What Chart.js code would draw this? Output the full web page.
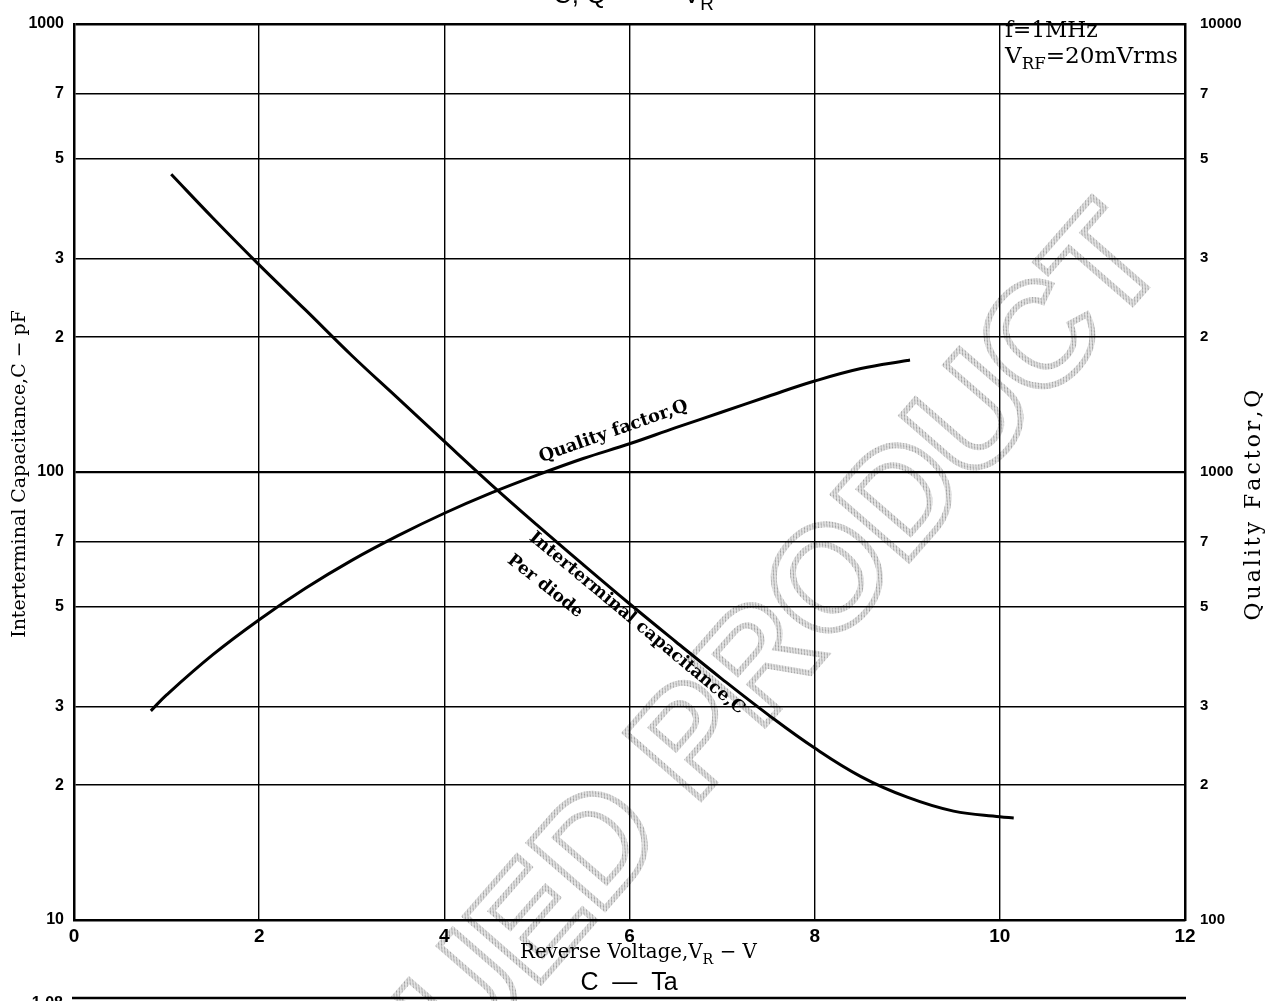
<!DOCTYPE html>
<html>
<head>
<meta charset="utf-8">
<script src="https://cdn.jsdelivr.net/npm/chart.js@4.4.1/dist/chart.umd.min.js"></script>
<style>
  body { margin: 0; background: #fff; }
  #wrap { width: 1270px; height: 1001px; }
</style>
</head>
<body>
<div id="wrap"><canvas id="cq" width="1270" height="1001"></canvas></div>
<script>
// C - VR curve (left axis, pF)
const voltsC = [1.05, 1.5, 2, 2.5, 3, 3.5, 4, 4.5, 5, 5.5, 6, 6.5, 7, 7.5, 8, 8.5, 9, 9.5, 10, 10.15];
const capC = [462, 369, 290, 230, 182, 146, 117, 94, 76.2, 62.1, 50.8, 41.8, 34.5, 28.7, 24.2, 20.9, 18.8, 17.5, 17.0, 16.9];

// Q - VR curve (right axis)
const voltsQ = [0.83, 1, 1.5, 2, 2.5, 3, 3.5, 4, 4.5, 5, 5.5, 6, 6.5, 7, 7.5, 8, 8.5, 9, 9.03];
const qualityQ = [293, 318, 391, 468, 550, 635, 721, 809, 897, 984, 1072, 1156, 1256, 1361, 1476, 1596, 1702, 1774, 1778];

// axes
const xTicks = [0, 2, 4, 6, 8, 10, 12];
const yTicksLeft = [10, 20, 30, 50, 70, 100, 200, 300, 500, 700, 1000];
const yLabelsLeft = ['10', '2', '3', '5', '7', '100', '2', '3', '5', '7', '1000'];
const yTicksRight = [100, 200, 300, 500, 700, 1000, 2000, 3000, 5000, 7000, 10000];
const yLabelsRight = ['100', '2', '3', '5', '7', '1000', '2', '3', '5', '7', '10000'];

const SERIF = '"DejaVu Serif", "Liberation Serif", serif';
const SANS = '"Liberation Sans", Arial, sans-serif';

function richWidth(ctx, parts, size, family, weight) {
    let w = 0;
    parts.forEach(p => {
        ctx.font = weight + ' ' + (p[1] ? size * 0.72 : size) + 'px ' + family;
        w += ctx.measureText(p[0]).width;
    });
    return w;
}

function drawRich(ctx, parts, x, y, size, family, weight) {
    ctx.textAlign = 'left';
    ctx.textBaseline = 'alphabetic';
    parts.forEach(p => {
        const s = p[1] ? size * 0.72 : size;
        ctx.font = weight + ' ' + s + 'px ' + family;
        ctx.fillText(p[0], x, p[1] ? y + size * 0.28 : y);
        x += ctx.measureText(p[0]).width;
    });
}

function fitSize(ctx, parts, target, family, weight) {
    return 100 * target / richWidth(ctx, parts, 100, family, weight);
}

// text centred on (cx, cy), rotated, scaled to a given length
function drawRotated(ctx, parts, cx, cy, angle, length, family, weight) {
    const size = fitSize(ctx, parts, length, family, weight);
    const w = richWidth(ctx, parts, size, family, weight);
    ctx.save();
    ctx.translate(cx, cy);
    ctx.rotate(angle);
    drawRich(ctx, parts, -w / 2, size * 0.36, size, family, weight);
    ctx.restore();
}

// fixed font size, letters spread out to a given length
function drawSpaced(ctx, text, cx, cy, angle, size, length, family) {
    ctx.save();
    ctx.translate(cx, cy);
    ctx.rotate(angle);
    ctx.font = 'normal ' + size + 'px ' + family;
    ctx.textAlign = 'left';
    ctx.textBaseline = 'alphabetic';
    const chars = text.split('');
    const natural = ctx.measureText(text).width;
    const gap = Math.max(0, (length - natural) / (chars.length - 1));
    const total = natural + gap * (chars.length - 1);
    let x = -total / 2;
    chars.forEach(ch => {
        ctx.fillText(ch, x, size * 0.36);
        x += ctx.measureText(ch).width + gap;
    });
    ctx.restore();
}

function hatchPattern(ctx) {
    const c = document.createElement('canvas');
    c.width = 4;
    c.height = 4;
    const g = c.getContext('2d');
    g.fillStyle = '#e2e2e2';
    g.fillRect(0, 0, 4, 4);
    g.strokeStyle = '#9a9a9a';
    g.lineWidth = 1;
    g.beginPath();
    g.moveTo(0, 4);
    g.lineTo(4, 0);
    g.stroke();
    return ctx.createPattern(c, 'repeat');
}

const decorPlugin = {
    id: 'decor',
    beforeDraw(chart) {
        const ctx = chart.ctx;
        ctx.save();
        ctx.fillStyle = '#fff';
        ctx.fillRect(0, 0, chart.width, chart.height);

        // watermark
        ctx.translate(1169, 262);
        ctx.rotate(-48.9 * Math.PI / 180);
        ctx.font = 'bold 146px ' + SANS;
        ctx.textAlign = 'right';
        ctx.textBaseline = 'alphabetic';
        ctx.strokeStyle = hatchPattern(ctx);
        ctx.lineWidth = 6;
        ctx.strokeText('DISCONTINUED PRODUCT', 0, 0);
        ctx.restore();
    },
    afterDraw(chart) {
        const ctx = chart.ctx;
        ctx.save();
        ctx.fillStyle = '#000';

        // axis titles
        drawRotated(ctx, [['Interterminal Capacitance,C \u2212 pF', false]], 18, 474, -Math.PI / 2, 328, SERIF, 'normal');
        drawSpaced(ctx, 'Quality Factor,Q', 1252, 507, -Math.PI / 2, 22, 227, SERIF);
        const xt = [['Reverse Voltage,V', false], ['R', true], [' \u2212 V', false]];
        drawRich(ctx, xt, 520, 958, fitSize(ctx, xt, 237, SERIF, 'normal'), SERIF, 'normal');

        // conditions box
        const c1 = [['f=1MHz', false]];
        const c2 = [['V', false], ['RF', true], ['=20mVrms', false]];
        const cs = fitSize(ctx, c2, 173, SERIF, 'normal');
        drawRich(ctx, c1, 1005, 37, cs * 0.94, SERIF, 'normal');
        drawRich(ctx, c2, 1005, 63, cs, SERIF, 'normal');

        // curve labels
        drawRotated(ctx, [['Quality factor,Q', false]], 613, 430, -19.5 * Math.PI / 180, 157, SERIF, 'bold');
        drawRotated(ctx, [['Interterminal capacitance,C', false]], 638, 622, 39.8 * Math.PI / 180, 275, SERIF, 'bold');
        drawRotated(ctx, [['Per diode', false]], 546, 585, 38.3 * Math.PI / 180, 91, SERIF, 'bold');

        // neighbouring charts, cut by the page edge
        drawRich(ctx, [['C, Q', false]], 553, 3, 26, SANS, 'normal');
        drawRich(ctx, [['V', false], ['R', true]], 683, 3, 26, SANS, 'normal');
        ctx.font = '25px ' + SANS;
        ctx.textAlign = 'center';
        ctx.fillText('C  \u2014  Ta', 629, 990);
        ctx.font = 'bold 16px ' + SANS;
        ctx.textAlign = 'right';
        ctx.fillText('1.08', 63, 1008);
        ctx.strokeStyle = '#000';
        ctx.lineWidth = 2.5;
        ctx.beginPath();
        ctx.moveTo(72, 998);
        ctx.lineTo(1186, 998);
        ctx.stroke();
        ctx.restore();
    }
};

function gridWidth(c) {
    if (!c.tick) return 1.4;
    if (c.tick.value === 100) return 2.2;
    if (c.tick.value === 1000) return 2.5;
    return 1.4;
}

new Chart(document.getElementById('cq'), {
    type: 'line',
    data: {
        datasets: [{
            label: 'Interterminal capacitance,C',
            data: voltsC.map((v, i) => ({ x: v, y: capC[i] })),
            yAxisID: 'y',
            borderColor: '#000',
            borderWidth: 3,
            pointRadius: 0,
            tension: 0.4,
            fill: false
        }, {
            label: 'Quality factor,Q',
            data: voltsQ.map((v, i) => ({ x: v, y: qualityQ[i] })),
            yAxisID: 'y2',
            borderColor: '#000',
            borderWidth: 3,
            pointRadius: 0,
            tension: 0.4,
            fill: false
        }]
    },
    options: {
        responsive: false,
        animation: false,
        devicePixelRatio: 1,
        layout: { padding: { top: 17, left: 0, right: 0, bottom: 0 } },
        plugins: {
            legend: { display: false },
            tooltip: { enabled: false }
        },
        scales: {
            x: {
                type: 'linear',
                min: 0,
                max: 12,
                afterBuildTicks: s => { s.ticks = xTicks.map(v => ({ value: v })); },
                afterFit: s => { s.height = 81; },
                ticks: {
                    color: '#000',
                    font: { family: SANS, size: 19, weight: 'bold' },
                    padding: 5,
                    maxRotation: 0,
                    autoSkip: false
                },
                grid: { color: '#000', lineWidth: 1.4, drawTicks: false },
                border: { color: '#000', width: 2.5 }
            },
            y: {
                type: 'logarithmic',
                position: 'left',
                min: 10,
                max: 1000,
                afterBuildTicks: s => { s.ticks = yTicksLeft.map(v => ({ value: v })); },
                afterFit: s => { s.width = 74; },
                ticks: {
                    color: '#000',
                    font: { family: SANS, size: 16, weight: 'bold' },
                    padding: 10,
                    autoSkip: false,
                    callback: (v, i) => yLabelsLeft[i]
                },
                grid: { color: '#000', lineWidth: gridWidth, drawTicks: false },
                border: { color: '#000', width: 2.5 }
            },
            y2: {
                type: 'logarithmic',
                position: 'right',
                min: 100,
                max: 10000,
                afterBuildTicks: s => { s.ticks = yTicksRight.map(v => ({ value: v })); },
                afterFit: s => { s.width = 85; },
                ticks: {
                    color: '#000',
                    font: { family: SANS, size: 15, weight: 'bold' },
                    padding: 15,
                    autoSkip: false,
                    callback: (v, i) => yLabelsRight[i]
                },
                grid: { drawOnChartArea: false, drawTicks: false },
                border: { color: '#000', width: 2.5 }
            }
        }
    },
    plugins: [decorPlugin]
});
</script>
</body>
</html>
